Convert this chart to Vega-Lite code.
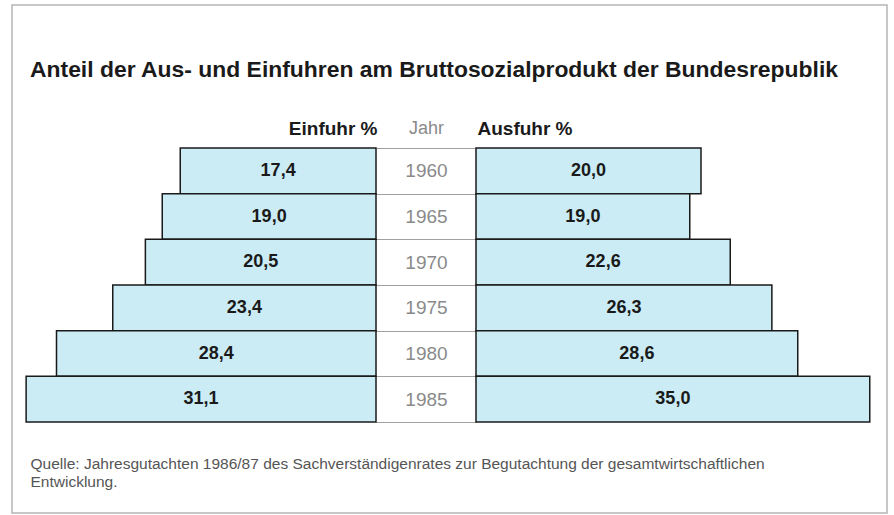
{
  "$schema": "https://vega.github.io/schema/vega-lite/v6.json",
  "width": 875,
  "height": 508,
  "autosize": {"type": "none"},
  "padding": {"left": 12, "top": 5, "right": 7, "bottom": 2},
  "background": "white",
  "title": {
    "text": "Anteil der Aus- und Einfuhren am Bruttosozialprodukt der Bundesrepublik",
    "anchor": "start",
    "frame": "group",
    "font": "Liberation Sans",
    "fontSize": 22.9,
    "fontWeight": "bold",
    "color": "#1a1a1a",
    "offset": 0,
    "dx": 18,
    "dy": 104,
    "baseline": "alphabetic"
  },
  "data": {
    "values": [
      {"Jahr": "1960", "Einfuhr": 17.4, "Ausfuhr": 20.0},
      {"Jahr": "1965", "Einfuhr": 19.0, "Ausfuhr": 19.0},
      {"Jahr": "1970", "Einfuhr": 20.5, "Ausfuhr": 22.6},
      {"Jahr": "1975", "Einfuhr": 23.4, "Ausfuhr": 26.3},
      {"Jahr": "1980", "Einfuhr": 28.4, "Ausfuhr": 28.6},
      {"Jahr": "1985", "Einfuhr": 31.1, "Ausfuhr": 35.0}
    ]
  },
  "encoding": {
    "y": {
      "field": "Jahr",
      "type": "ordinal",
      "scale": {"range": [143, 417], "paddingInner": 0, "paddingOuter": 0},
      "axis": {
        "orient": "left",
        "offset": -364,
        "domain": false,
        "ticks": true,
        "tickBand": "extent",
        "tickSize": -100,
        "tickColor": "#a0a0a0",
        "tickWidth": 1,
        "labelPadding": 50,
        "labelAlign": "center",
        "labelBaseline": "middle",
        "labelFont": "Liberation Sans",
        "labelFontSize": 19,
        "labelColor": "#8a8a8a",
        "title": "Jahr",
        "titleAngle": 0,
        "titleX": 50,
        "titleY": 123,
        "titleAlign": "center",
        "titleBaseline": "middle",
        "titleFont": "Liberation Sans",
        "titleFontSize": 18,
        "titleFontWeight": "normal",
        "titleColor": "#8a8a8a"
      }
    }
  },
  "layer": [
    {
      "mark": {"type": "bar", "fill": "#cbecf5", "stroke": "#1a1a1a", "strokeWidth": 1.5},
      "encoding": {
        "x": {
          "field": "Einfuhr",
          "type": "quantitative",
          "scale": {"domain": [0, 30], "range": [364, 26.5], "zero": true, "nice": false},
          "axis": {
            "orient": "top",
            "domain": false,
            "ticks": false,
            "labels": false,
            "grid": false,
            "title": "Einfuhr %",
            "titleX": 365,
            "titleY": 123,
            "titleAlign": "right",
            "titleAnchor": null,
            "titleBaseline": "middle",
            "titleFont": "Liberation Sans",
            "titleFontSize": 19,
            "titleFontWeight": "bold",
            "titleColor": "#1a1a1a"
          }
        }
      }
    },
    {
      "mark": {"type": "text", "font": "Liberation Sans", "fontSize": 18, "fontWeight": "bold", "fill": "#1a1a1a", "align": "center", "baseline": "middle"},
      "encoding": {
        "x": {
          "field": "Einfuhr",
          "type": "quantitative",
          "scale": {"domain": [0, 60], "range": [364, 26.5], "zero": true, "nice": false},
          "axis": {
            "orient": "bottom",
            "domain": false,
            "ticks": false,
            "labels": false,
            "grid": false,
            "title": ["Quelle: Jahresgutachten 1986/87 des Sachverständigenrates zur Begutachtung der gesamtwirtschaftlichen", "Entwicklung."],
            "titleX": 18,
            "titleY": -57,
            "titleAlign": "left",
            "titleAnchor": null,
            "titleBaseline": "top",
            "titleLineHeight": 18,
            "titleFont": "Liberation Sans",
            "titleFontSize": 15.5,
            "titleFontWeight": "normal",
            "titleColor": "#555555"
          }
        },
        "text": {"field": "Einfuhr", "type": "quantitative", "format": ".1f"}
      }
    },
    {
      "mark": {"type": "bar", "fill": "#cbecf5", "stroke": "#1a1a1a", "strokeWidth": 1.5},
      "encoding": {
        "x": {
          "field": "Ausfuhr",
          "type": "quantitative",
          "scale": {"domain": [0, 30], "range": [464, 801.5], "zero": true, "nice": false},
          "axis": {
            "orient": "top",
            "domain": false,
            "ticks": false,
            "labels": false,
            "grid": false,
            "title": "Ausfuhr %",
            "titleX": 465,
            "titleY": 123,
            "titleAlign": "left",
            "titleAnchor": null,
            "titleBaseline": "middle",
            "titleFont": "Liberation Sans",
            "titleFontSize": 19,
            "titleFontWeight": "bold",
            "titleColor": "#1a1a1a"
          }
        }
      }
    },
    {
      "mark": {"type": "text", "font": "Liberation Sans", "fontSize": 18, "fontWeight": "bold", "fill": "#1a1a1a", "align": "center", "baseline": "middle"},
      "encoding": {
        "x": {
          "field": "Ausfuhr",
          "type": "quantitative",
          "scale": {"domain": [0, 60], "range": [464, 801.5], "zero": true, "nice": false},
          "axis": null
        },
        "text": {"field": "Ausfuhr", "type": "quantitative", "format": ".1f"}
      }
    }
  ],
  "resolve": {"scale": {"x": "independent"}, "axis": {"x": "independent"}},
  "config": {
    "locale": {"number": {"decimal": ",", "thousands": ".", "grouping": [3], "currency": ["", " €"]}},
    "view": {"stroke": "#b5b5b5", "strokeWidth": 1.5}
  }
}
